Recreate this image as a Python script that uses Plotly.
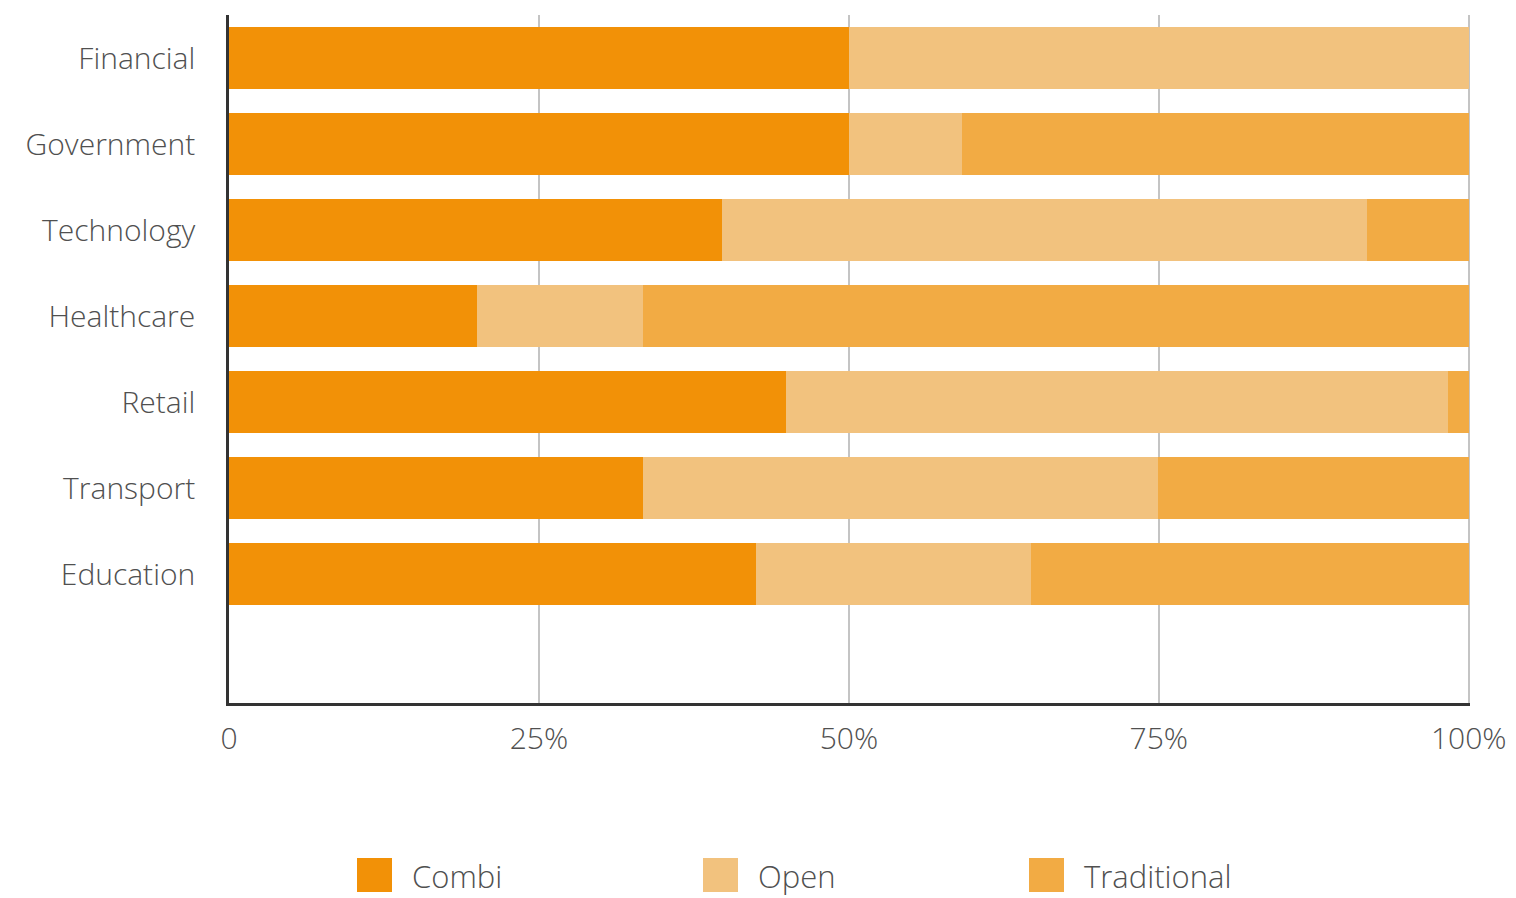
import plotly.graph_objects as go

categories = ["Financial", "Government", "Technology", "Healthcare", "Retail", "Transport", "Education"]
combi = [50.0, 50.0, 39.8, 20.0, 44.9, 33.4, 42.5]
open_ = [50.0, 9.1, 52.0, 13.4, 53.4, 41.5, 22.2]
traditional = [0.0, 40.9, 8.2, 66.6, 1.7, 25.1, 35.3]
tick_vals = [0, 25, 50, 75, 100]
tick_text = ["0", "25%", "50%", "75%", "100%"]

series = [("Combi", combi, "#F29107"), ("Open", open_, "#F2C27E"), ("Traditional", traditional, "#F2AB44")]

FONT = "Open Sans"
TXT = "#505050"

fig = go.Figure()
for name, vals, col in series:
    fig.add_trace(go.Bar(
        y=categories, x=vals, name=name, orientation="h",
        marker=dict(color=col, line=dict(width=0)),
        width=0.71, showlegend=False,
    ))

OFF = 8  # page body margin
W, H = 1516 - OFF, 898 - OFF
L, T = 229 - OFF, 15 - OFF
R = W - (1470 - OFF)
B = H - (703 - OFF)
pw, ph = W - L - R, H - T - B

def px2x(px):
    return (px - OFF - L) / pw

def py2y(py):
    return (H - B - (py - OFF)) / ph

legend_pos = [357, 703, 1029]
for (name, vals, col), xs in zip(series, legend_pos):
    fig.add_shape(type="rect", xref="paper", yref="paper",
                  x0=px2x(xs), x1=px2x(xs + 35), y0=py2y(892), y1=py2y(858),
                  fillcolor=col, line=dict(width=0))
    fig.add_annotation(xref="paper", yref="paper", x=px2x(xs + 53), y=py2y(876),
                       text=name, showarrow=False, xanchor="left", yanchor="middle",
                       font=dict(family=FONT, size=31, color=TXT, weight=300))

fig.update_layout(
    barmode="stack",
    width=W, height=H,
    margin=dict(l=L, r=R, t=T, b=B),
    plot_bgcolor="white", paper_bgcolor="white",
    font=dict(family=FONT, size=30, color=TXT, weight=300),
    xaxis=dict(range=[0, 100.1], tickvals=tick_vals, ticktext=tick_text,
               showgrid=True, gridcolor="#c4c4c4", gridwidth=2,
               showline=True, linecolor="#333333", linewidth=2.5,
               zeroline=False, ticks="", ticklabelstandoff=7,
               tickfont=dict(family=FONT, size=30, color=TXT, weight=300)),
    yaxis=dict(categoryorder="array", categoryarray=categories,
               range=[7.5, -0.5], showgrid=False,
               showline=True, linecolor="#333333", linewidth=2.5,
               zeroline=False, ticks="", ticklabelstandoff=25,
               tickfont=dict(family=FONT, size=30, color=TXT, weight=300)),
)

fig.write_html("out.html")
